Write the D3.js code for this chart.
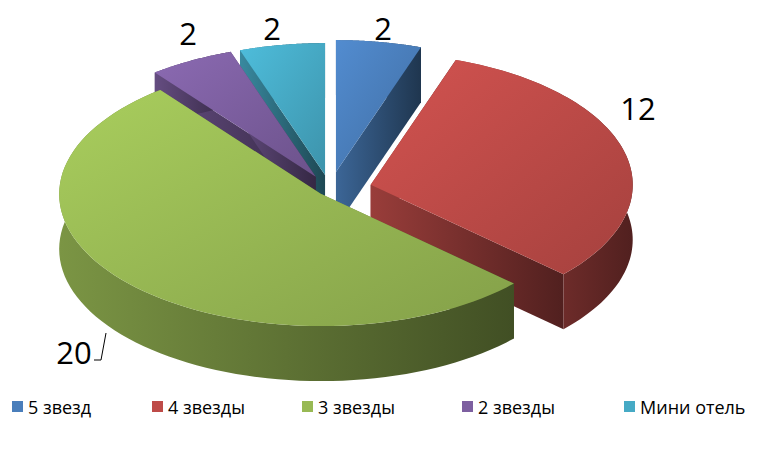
<!DOCTYPE html>
<html><head><meta charset="utf-8">
<script src="https://cdn.jsdelivr.net/npm/d3@7"></script>
<style>body{margin:0;background:#fff}</style>
</head><body>
<svg width="780" height="451"></svg>
<script>
var categories = ["5 звезд", "4 звезды", "3 звезды", "2 звезды", "Мини отель"];
var values = [2, 12, 20, 2, 2];
var colors = ["#4a7ebb", "#be4b48", "#98b954", "#7d5fa0", "#46aac5"];

var cx = 330, cy = 190, rx = 262, ry = 132, depth = 55;
var explode = [36, 42, 12, 30, 30];
var svg = d3.select("svg");
var defs = svg.append("defs");

var pie = d3.pie().sort(null).value(d => d);
var arcs = pie(values).map((a, i) => {
  var mid = (a.startAngle + a.endAngle) / 2;
  var ox = Math.sin(mid) * explode[i], oy = -Math.cos(mid) * explode[i] * ry / rx;
  return {i: i, a0: a.startAngle, a1: a.endAngle, mid: mid, ox: ox, oy: oy};
});

function pt(s, a, r) {
  return [cx + s.ox + r * rx * Math.sin(a), cy + s.oy - r * ry * Math.cos(a)];
}

arcs.forEach(s => {
  var c = d3.color(colors[s.i]);
  var g = defs.append("linearGradient").attr("id", "top" + s.i)
    .attr("x1", 0).attr("y1", 0).attr("x2", 1).attr("y2", 1);
  g.append("stop").attr("offset", 0).attr("stop-color", c.brighter(0.3));
  g.append("stop").attr("offset", 1).attr("stop-color", c.darker(0.4));
  var w = defs.append("linearGradient").attr("id", "side" + s.i)
    .attr("x1", 0).attr("y1", 0).attr("x2", 1).attr("y2", 0);
  w.append("stop").attr("offset", 0).attr("stop-color", c.darker(0.6));
  w.append("stop").attr("offset", 1).attr("stop-color", c.darker(2.4));
});

var order = arcs.slice().sort((a, b) => -Math.cos(a.mid) - -Math.cos(b.mid));
var line = d3.line();
order.forEach(s => {
  var g = svg.append("g");
  var ctr = pt(s, 0, 0);
  [s.a0, s.a1].forEach(a => {
    var p = pt(s, a, 1);
    g.append("path").attr("fill", "url(#side" + s.i + ")")
      .attr("d", line([ctr, p, [p[0], p[1] + depth], [ctr[0], ctr[1] + depth]]) + "Z");
  });
  var n = 80, top = [], bot = [];
  for (var k = 0; k <= n; k++) {
    var a = s.a0 + (s.a1 - s.a0) * k / n;
    var p = pt(s, a, 1);
    top.push(p); bot.push([p[0], p[1] + depth]);
  }
  g.append("path").attr("fill", "url(#side" + s.i + ")")
    .attr("d", line(top.concat(bot.reverse())) + "Z");
  g.append("path").attr("fill", "url(#top" + s.i + ")")
    .attr("d", line([ctr].concat(top)) + "Z");
});

// value labels
var labelPos = [[383, 28], [638, 108], [74, 352], [188, 33], [272, 28]];
labelPos.forEach((p, i) => {
  svg.append("text").attr("x", p[0]).attr("y", p[1] + 12)
    .attr("text-anchor", "middle").attr("font-family", "'Open Sans', sans-serif")
    .attr("font-size", 31).attr("fill", "#000").text(values[i]);
});
svg.append("path").attr("d", "M94,360 L101,360 L106,333").attr("stroke", "#000").attr("fill", "none");

// legend
var legX = [12, 152, 302, 462, 624];
categories.forEach((c, i) => {
  svg.append("rect").attr("x", legX[i]).attr("y", 401).attr("width", 11).attr("height", 11).attr("fill", colors[i]);
  svg.append("text").attr("x", legX[i] + 16).attr("y", 414)
    .attr("font-family", "'Open Sans', sans-serif").attr("font-size", 18).text(c);
});
</script>
</body></html>
